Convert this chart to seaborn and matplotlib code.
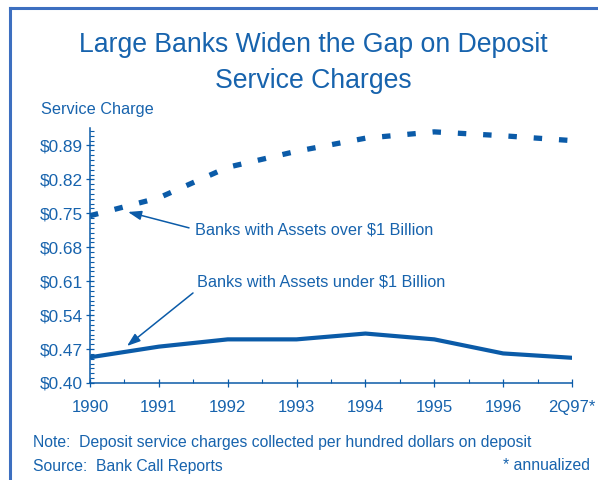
import matplotlib
matplotlib.use("Agg")
import matplotlib.pyplot as plt
import pandas as pd
import seaborn as sns
from matplotlib.lines import Line2D
from matplotlib.ticker import MultipleLocator

# Deposit service charges per $100 of deposits
periods = ["1990", "1991", "1992", "1993", "1994", "1995", "1996", "2Q97*"]
over_1b = [0.745, 0.782, 0.845, 0.878, 0.905, 0.918, 0.910, 0.900]
under_1b = [0.453, 0.475, 0.490, 0.490, 0.502, 0.490, 0.461, 0.452]
y_ticks = [0.40, 0.47, 0.54, 0.61, 0.68, 0.75, 0.82, 0.89]

LINE = "#0B5BA8"
TEXT = "#1763AD"
FRAME = "#3D6FC0"

sns.set_style("white")
plt.rcParams["font.family"] = ["Liberation Sans", "DejaVu Sans"]

df = pd.DataFrame({"pos": range(len(periods)), "over": over_1b, "under": under_1b})

fig = plt.figure(figsize=(5.98, 4.80), dpi=100)
ax = fig.add_axes([90 / 598, 1 - 383 / 480, (572 - 90) / 598, (383 - 128) / 480])

sns.lineplot(data=df, x="pos", y="over", ax=ax, color=LINE, lw=3.8)
big = ax.lines[-1]
big.set_dashes((1.6, 3.2))
big.set_dash_capstyle("butt")
sns.lineplot(data=df, x="pos", y="under", ax=ax, color=LINE, lw=3.0)

ax.set_xlim(0, len(periods) - 1)
ax.set_ylim(0.40, 0.926)
ax.set_xticks(range(len(periods)))
ax.set_xticklabels(periods)
ax.set_yticks(y_ticks)
ax.set_yticklabels([f"${v:.2f}" for v in y_ticks])
ax.xaxis.set_minor_locator(MultipleLocator(0.5))
ax.yaxis.set_minor_locator(MultipleLocator(0.01))
ax.set_xlabel("")
ax.set_ylabel("")

for side in ("top", "right"):
    ax.spines[side].set_visible(False)
for side in ("left", "bottom"):
    ax.spines[side].set_color(LINE)
    ax.spines[side].set_linewidth(1.1)

ax.tick_params(which="major", direction="inout", length=6, width=0.9,
               color=LINE, labelcolor=TEXT)
ax.tick_params(which="minor", direction="in", length=3, width=0.8, color=LINE)
ax.tick_params(axis="x", which="major", pad=9, labelsize=12)
ax.tick_params(axis="y", which="major", pad=2, labelsize=12.4)
ax.tick_params(which="both", left=True, bottom=True)

# Labels with pointers to each series
ax.text(1.525, 0.7157, "Banks with Assets over $1 Billion", color=TEXT,
        fontsize=11.7, va="center", ha="left")
ax.annotate("", xy=(0.552, 0.7528), xytext=(1.438, 0.720),
            arrowprops=dict(arrowstyle="-|>,head_length=0.8,head_width=0.28",
                            color=LINE, lw=1.1, shrinkA=0, shrinkB=0))
ax.text(1.554, 0.608, "Banks with Assets under $1 Billion", color=TEXT,
        fontsize=11.7, va="center", ha="left")
ax.annotate("", xy=(0.537, 0.4763), xytext=(1.496, 0.5857),
            arrowprops=dict(arrowstyle="-|>,head_length=0.8,head_width=0.28",
                            color=LINE, lw=1.1, shrinkA=0, shrinkB=0))

# Title, axis caption and footnotes
fig.text(313 / 598, 1 - 52 / 480, "Large Banks Widen the Gap on Deposit",
         color=TEXT, fontsize=19.2, ha="center", va="baseline")
fig.text(313 / 598, 1 - 87.5 / 480, "Service Charges",
         color=TEXT, fontsize=19.2, ha="center", va="baseline")
fig.text(41 / 598, 1 - 114 / 480, "Service Charge", color=TEXT,
         fontsize=11.7, ha="left", va="baseline")
fig.text(33 / 598, 1 - 442 / 480,
         "Note:  Deposit service charges collected per hundred dollars on deposit",
         color=TEXT, fontsize=11.3, ha="left", va="center")
fig.text(33 / 598, 1 - 466 / 480, "Source:  Bank Call Reports",
         color=TEXT, fontsize=11.3, ha="left", va="center")
fig.text(590 / 598, 1 - 466 / 480, "* annualized",
         color=TEXT, fontsize=11.3, ha="right", va="center")

# Frame on the left and top edges
fig.add_artist(Line2D([10 / 598, 10 / 598], [0, 1 - 8 / 480], color=FRAME, lw=2.2,
                      solid_capstyle="projecting"))
fig.add_artist(Line2D([10 / 598, 1], [1 - 8 / 480, 1 - 8 / 480], color=FRAME, lw=2.2,
                      solid_capstyle="projecting"))

fig.savefig("out.png", dpi=100)
